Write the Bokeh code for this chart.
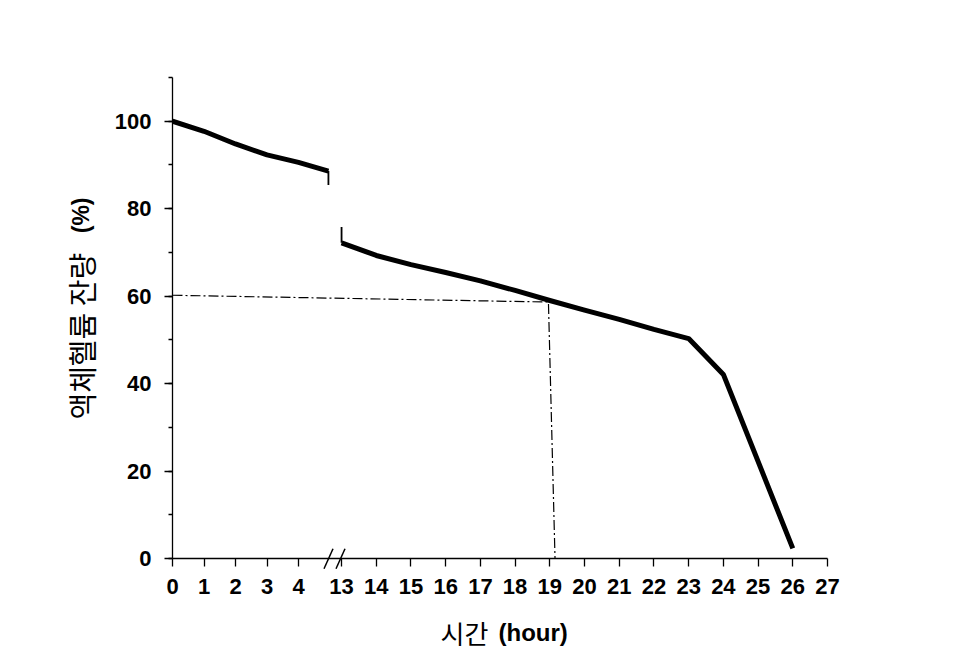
import math
from bokeh.plotting import figure
from bokeh.models import Range1d, LinearAxis, FixedTicker, SingleIntervalTicker
from bokeh.core.properties import value
from bokeh.embed import file_html
from bokeh.resources import INLINE

# ---- data (hours, remaining liquid helium %) ----
early_hours = [0, 1, 2, 3, 4, 4.95]
early_level = [100, 97.7, 94.8, 92.3, 90.6, 88.6]
late_hours = [13, 14, 15, 16, 17, 18, 19, 20, 21, 22, 23, 24, 26]
late_level = [72.2, 69.3, 67.2, 65.4, 63.5, 61.3, 59.0, 56.8, 54.7, 52.4, 50.3, 42.1, 2.3]

# thin connector stubs where the curve crosses the axis break
stub_early_level = [88.6, 85.4]
stub_late_level = [75.8, 72.2]

# reference (dash-dot) guide: 60 % level -> ~19 h
guide_level = [60.2, 58.65, 0]
guide_hours_end = [18.96, 19.15]

early_ticks = [0, 1, 2, 3, 4]
late_ticks = list(range(13, 28))
y_ticks_interval = 20
y_max = 110

x_title_ko, x_title_unit = "시간", "(hour)"
y_title_ko, y_title_unit = "액체헬륨 잔량", "(%)"

# ---- layout ----
W, H = 960, 670
left, right, top, bottom = 172, 133, 77, 112
frame_w = W - left - right
frame_h = H - top - bottom
y_scale = frame_h / y_max

early_scale = 31.5   # px per hour before the break
late_scale = 34.71   # px per hour after the break
x_early = Range1d(0, frame_w / early_scale)
late_end = 27
x_late = Range1d(late_end - frame_w / late_scale, late_end)

p = figure(width=W, height=H, output_backend="svg", toolbar_location=None,
           x_range=x_early, y_range=Range1d(0, y_max),
           min_border_left=left, min_border_right=right,
           min_border_top=top, min_border_bottom=bottom,
           x_axis_type=None, y_axis_type=None)
p.extra_x_ranges = {"late": x_late}
p.outline_line_color = None
p.xgrid.visible = False
p.ygrid.visible = False
p.background_fill_color = "white"
p.border_fill_color = "white"

TICK_FONT = "Liberation Sans"
KO_FONT = "Noto Sans CJK KR"

# y axis
yax = LinearAxis(ticker=SingleIntervalTicker(interval=y_ticks_interval, num_minor_ticks=2))
yax.major_tick_in = 0
yax.major_tick_out = 8
yax.minor_tick_in = 0
yax.minor_tick_out = 4
yax.axis_line_width = 1.3
yax.major_tick_line_width = 1.3
yax.minor_tick_line_width = 1.3
yax.major_label_text_font = TICK_FONT
yax.major_label_text_font_style = "bold"
yax.major_label_text_font_size = "22px"
yax.major_label_text_color = "black"
yax.major_label_standoff = 13
p.add_layout(yax, "left")

# x axis (broken): late ticks mapped onto the early range positions
def late_to_early(t):
    px = (t - x_late.start) * late_scale
    return px / early_scale

tick_pos = list(early_ticks) + [late_to_early(t) for t in late_ticks]
overrides = {}
for t in early_ticks:
    overrides[float(t)] = str(t)
for t in late_ticks:
    overrides[late_to_early(t)] = str(t)

xax = LinearAxis(ticker=FixedTicker(ticks=tick_pos))
xax.major_label_overrides = overrides
xax.major_tick_in = 0
xax.major_tick_out = 8
xax.minor_tick_line_color = None
xax.axis_line_width = 1.3
xax.major_tick_line_width = 1.3
xax.major_label_text_font = TICK_FONT
xax.major_label_text_font_style = "bold"
xax.major_label_text_font_size = "22px"
xax.major_label_text_color = "black"
xax.major_label_standoff = 12
p.add_layout(xax, "below")

# data lines
p.line(early_hours, early_level, line_width=5, line_color="black", line_join="round")
p.line(late_hours, late_level, line_width=5, line_color="black", line_join="round",
       x_range_name="late")
p.line([early_hours[-1]] * 2, stub_early_level, line_width=1.8, line_color="black")
p.line([late_hours[0]] * 2, stub_late_level, line_width=1.8, line_color="black",
       x_range_name="late")

# guide line (dash-dot), drawn on the late scale from the left edge of the axis
guide_x = [x_late.start] + guide_hours_end
p.line(guide_x, guide_level, line_width=1.2, line_color="black",
       line_dash="10 3 2 3", x_range_name="late")

# helpers: canvas pixel -> data coordinates (for decorations outside the frame)
def px_to_x(px):
    return (px - left) / early_scale
def py_to_y(py):
    return (top + frame_h - py) / y_scale

# axis break marks (drawn at overlay level so they may cross the frame edge)
brk_px = [323.5, 335.5]
p.segment(x0=[px_to_x(x) for x in brk_px], y0=[py_to_y(568.3)] * 2,
          x1=[px_to_x(x + 9) for x in brk_px], y1=[py_to_y(548.3)] * 2,
          line_width=1.5, line_color="black", level="overlay")

# axis titles (Korean part regular, unit part bold)
p.text(x=[px_to_x(440)], y=[py_to_y(632)], text=[x_title_ko],
       text_font=value(KO_FONT), text_font_size="26px", text_align="left",
       text_baseline="middle", text_color="black", level="overlay")
p.text(x=[px_to_x(498)], y=[py_to_y(632)], text=[x_title_unit],
       text_font=value(TICK_FONT), text_font_style="bold", text_font_size="24px",
       text_align="left", text_baseline="middle", text_color="black", level="overlay")
p.text(x=[px_to_x(80)], y=[py_to_y(419)], text=[y_title_ko], angle=math.pi / 2,
       text_font=value(KO_FONT), text_font_size="29px", text_align="left",
       text_baseline="middle", text_color="black", level="overlay")
p.text(x=[px_to_x(80)], y=[py_to_y(197)], text=[y_title_unit], angle=math.pi / 2,
       text_font=value(TICK_FONT), text_font_style="bold", text_font_size="23px",
       text_align="right", text_baseline="middle", text_color="black", level="overlay")

open("out.html", "w").write(file_html(p, INLINE))
